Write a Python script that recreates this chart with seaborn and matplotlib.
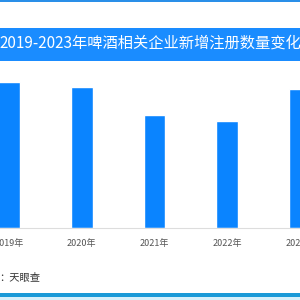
import matplotlib
matplotlib.use("Agg")
import matplotlib.pyplot as plt
import seaborn as sns
import pandas as pd
from matplotlib.patches import Rectangle

years = ["2019年", "2020年", "2021年", "2022年", "2023年"]
counts = [146, 141, 113, 107, 139]
title = "2019-2023年啤酒相关企业新增注册数量变化"
source = "：天眼查"

sns.set_theme(style="white")
plt.rcParams['font.family'] = ['Noto Sans CJK SC', 'DejaVu Sans']

df = pd.DataFrame({"year": years, "count": counts})

fig = plt.figure(figsize=(3, 3), dpi=100)
fig.patch.set_facecolor("white")

# top thin blue line
fig.patches.append(Rectangle((0, 1 - 2/300), 1, 2/300, transform=fig.transFigure,
                             facecolor="#2a8fe8", edgecolor="none", zorder=0))
# title band
fig.patches.append(Rectangle((0, 1 - 61/300), 1, 33/300, transform=fig.transFigure,
                             facecolor="#1a8cff", edgecolor="none", zorder=0))
fig.text(0.5, 1 - 43.5/300, title, color="white", fontsize=11.0,
         ha="center", va="center")
# bottom line
fig.patches.append(Rectangle((0, 1 - 297/300), 1, 4/300, transform=fig.transFigure,
                             facecolor="#1a9ad8", edgecolor="none", zorder=0))
fig.patches.append(Rectangle((0, 0), 1, 3/300, transform=fig.transFigure,
                             facecolor="#d6f0fb", edgecolor="none", zorder=0))

ax = fig.add_axes([0, 1 - 228/300, 1, 158/300])
sns.barplot(data=df, x="year", y="count", order=years, color="#0a84ff",
            saturation=1, width=0.30, ax=ax)
ax.set_xlim((0 - 9) / 73, (300 - 9) / 73)
ax.set_ylim(0, 158)
ax.set_xlabel("")
ax.set_ylabel("")
ax.set_yticks([])
ax.set_xticks(range(len(years)))
ax.set_xticklabels([])
for i, lab in enumerate(years):
    ax.annotate(lab, xy=(i, 0), xycoords=("data", "axes fraction"),
                xytext=(0, -11), textcoords="offset points",
                ha="center", va="center", fontsize=6.5, color="#555555",
                annotation_clip=False)
for s in ["top", "right", "left"]:
    ax.spines[s].set_visible(False)
ax.spines["bottom"].set_color("#dddddd")
ax.spines["bottom"].set_linewidth(0.8)
ax.tick_params(axis="x", length=0)
ax.patch.set_alpha(0)

fig.text(-0.002, 1 - 277/300, source, fontsize=7.4, color="#333333",
         ha="left", va="center", fontweight="medium")

fig.savefig("out.png", dpi=100)
